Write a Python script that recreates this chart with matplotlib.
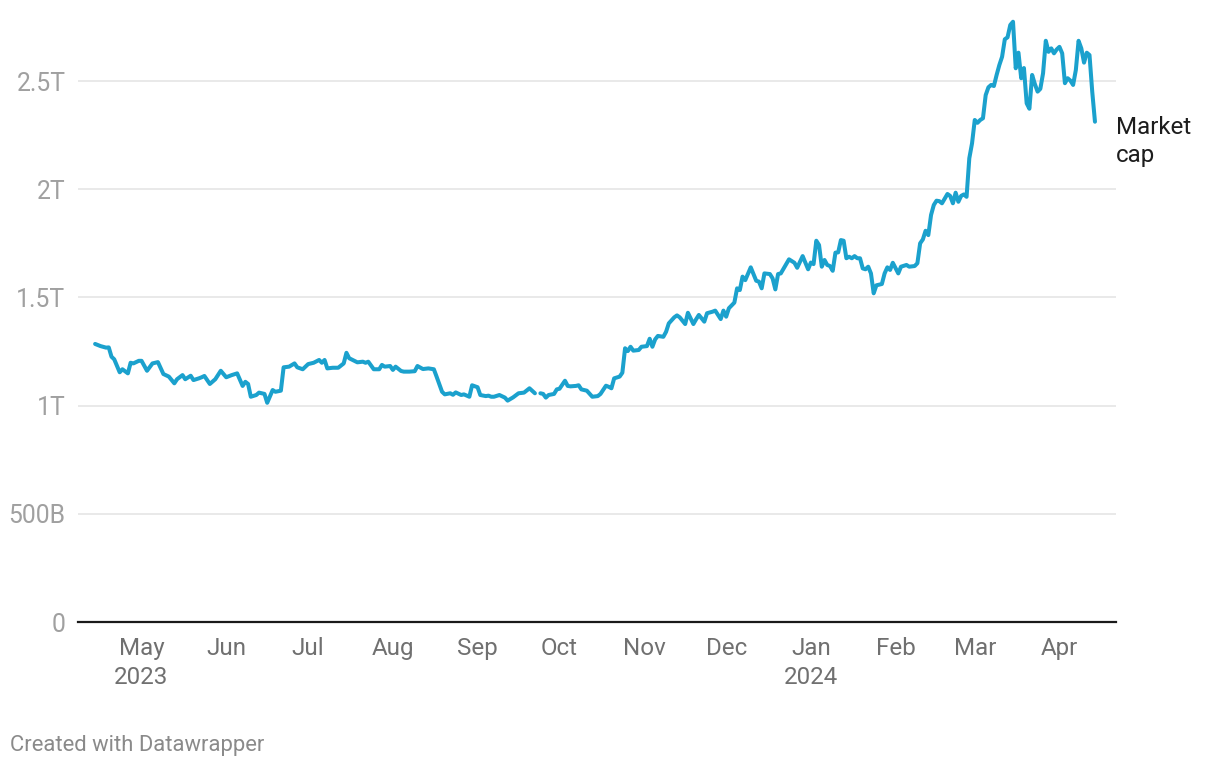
import numpy as np
import pandas as pd
import matplotlib
matplotlib.use("Agg")
import matplotlib.pyplot as plt

plt.rcParams['font.family'] = ['Roboto', 'DejaVu Sans']

# ---- data ----
start_date = "2023-04-14"
day_offsets = [
    0, 2, 4, 5, 6, 7, 9, 10, 12, 13, 14, 16, 17, 19, 21, 23, 25, 27, 29, 30,
    32, 33, 35, 36, 38, 39, 40, 42, 44, 46, 48, 50, 52, 54, 55, 56, 57, 59, 60, 62,
    63, 65, 66, 68, 69, 71, 73, 74, 76, 78, 80, 82, 83, 84, 85, 87, 89, 91, 92, 93,
    96, 98, 99, 100, 102, 104, 105, 106, 108, 109, 110, 112, 113, 115, 117, 118, 120, 122, 124, 125,
    127, 128, 130, 131, 132, 134, 135, 137, 138, 140, 141, 143, 144, 145, 146, 148, 150, 151, 153, 155,
    157, 159, 161, 162, 163, 164, 165, 166, 168, 169, 170, 172, 173, 174, 176, 177, 178, 180, 182, 184,
    185, 187, 188, 189, 190, 192, 193, 194, 195, 196, 197, 199, 200, 202, 203, 204, 205, 206, 208, 209,
    210, 212, 213, 214, 216, 217, 219, 220, 221, 223, 224, 226, 227, 229, 230, 231, 232, 234, 235, 236,
    237, 238, 240, 242, 243, 244, 245, 247, 248, 249, 250, 251, 253, 254, 256, 257, 259, 261, 262, 263,
    264, 265, 266, 267, 268, 269, 270, 271, 272, 273, 274, 275, 276, 277, 278, 279, 280, 281, 282, 283,
    284, 285, 286, 288, 289, 290, 291, 292, 294, 295, 297, 298, 300, 301, 302, 303, 304, 305, 306, 307,
    308, 309, 310, 312, 313, 314, 315, 316, 317, 318, 319, 320, 321, 322, 323, 324, 325, 326, 327, 328,
    329, 330, 331, 332, 333, 334, 335, 336, 337, 338, 339, 340, 341, 342, 343, 344, 345, 346, 347, 348,
    349, 350, 351, 352, 353, 354, 355, 356, 357, 358, 359, 360, 361, 362, 363, 364, 365, 366,
]
market_cap_t = [
    1.285, 1.275, 1.268, 1.269, 1.226, 1.214, 1.154, 1.168, 1.149, 1.198, 1.195, 1.207, 1.207, 1.161, 1.195, 1.201, 1.146, 1.134, 1.103, 1.122,
    1.141, 1.122, 1.138, 1.118, 1.126, 1.131, 1.137, 1.100, 1.122, 1.161, 1.131, 1.141, 1.149, 1.091, 1.110, 1.100, 1.041, 1.049, 1.060, 1.054,
    1.013, 1.072, 1.064, 1.069, 1.177, 1.180, 1.195, 1.177, 1.168, 1.192, 1.198, 1.211, 1.198, 1.211, 1.172, 1.175, 1.175, 1.195, 1.244, 1.219,
    1.200, 1.203, 1.198, 1.203, 1.168, 1.168, 1.188, 1.180, 1.183, 1.165, 1.180, 1.160, 1.157, 1.157, 1.159, 1.183, 1.169, 1.172, 1.168, 1.134,
    1.064, 1.052, 1.057, 1.050, 1.061, 1.049, 1.052, 1.041, 1.094, 1.085, 1.049, 1.044, 1.046, 1.041, 1.041, 1.049, 1.037, 1.023, 1.038, 1.057,
    1.060, 1.080, 1.057, np.nan, 1.057, 1.054, 1.037, 1.049, 1.054, 1.075, 1.078, 1.115, 1.091, 1.089, 1.091, 1.094, 1.075, 1.069, 1.041, 1.044,
    1.054, 1.092, 1.087, 1.080, 1.126, 1.134, 1.152, 1.265, 1.252, 1.272, 1.254, 1.257, 1.272, 1.275, 1.309, 1.272, 1.306, 1.322, 1.318, 1.341,
    1.380, 1.408, 1.417, 1.408, 1.377, 1.429, 1.377, 1.399, 1.419, 1.388, 1.427, 1.434, 1.439, 1.400, 1.439, 1.411, 1.450, 1.476, 1.542, 1.534,
    1.596, 1.580, 1.639, 1.577, 1.573, 1.542, 1.611, 1.608, 1.588, 1.537, 1.608, 1.611, 1.654, 1.676, 1.660, 1.637, 1.691, 1.630, 1.661, 1.654,
    1.762, 1.742, 1.642, 1.673, 1.650, 1.645, 1.623, 1.707, 1.708, 1.765, 1.762, 1.681, 1.688, 1.681, 1.691, 1.681, 1.681, 1.634, 1.630, 1.642,
    1.611, 1.519, 1.556, 1.562, 1.611, 1.639, 1.627, 1.660, 1.611, 1.642, 1.650, 1.642, 1.645, 1.658, 1.750, 1.768, 1.808, 1.788, 1.881, 1.927,
    1.947, 1.945, 1.935, 1.978, 1.969, 1.935, 1.984, 1.942, 1.969, 1.976, 1.965, 2.143, 2.212, 2.320, 2.307, 2.320, 2.328, 2.435, 2.471, 2.482,
    2.477, 2.528, 2.574, 2.612, 2.693, 2.702, 2.759, 2.774, 2.559, 2.631, 2.513, 2.560, 2.397, 2.372, 2.528, 2.486, 2.451, 2.464, 2.536, 2.686,
    2.635, 2.651, 2.628, 2.646, 2.658, 2.628, 2.490, 2.513, 2.502, 2.482, 2.551, 2.686, 2.651, 2.585, 2.631, 2.620, 2.451, 2.312,
]
y_ticks = [0, 0.5, 1.0, 1.5, 2.0, 2.5]
y_tick_labels = ["0", "500B", "1T", "1.5T", "2T", "2.5T"]
x_tick_dates = ["2023-05-01", "2023-06-01", "2023-07-01", "2023-08-01", "2023-09-01", "2023-10-01",
                "2023-11-01", "2023-12-01", "2024-01-01", "2024-02-01", "2024-03-01", "2024-04-01"]
x_tick_labels = ["May\n2023", "Jun", "Jul", "Aug", "Sep", "Oct",
                 "Nov", "Dec", "Jan\n2024", "Feb", "Mar", "Apr"]
series_label = "Market\ncap"

dates = pd.Timestamp(start_date) + pd.to_timedelta(day_offsets, unit="D")

# ---- figure ----
W, H = 1220, 768
fig = plt.figure(figsize=(W / 100, H / 100), dpi=100)
ax = fig.add_axes([78 / W, (H - 622) / H, 1038 / W, (622 - 5.3) / H])

line_color = "#1ba1cd"
ax.plot(dates, market_cap_t, color=line_color, lw=2.9, solid_capstyle="round",
        solid_joinstyle="round", zorder=3)

ax.set_ylim(0, 2.85)
x0 = pd.Timestamp(start_date) - pd.Timedelta(days=6.26)
x1 = pd.Timestamp(start_date) + pd.Timedelta(days=373.7)
ax.set_xlim(x0, x1)

ax.set_yticks(y_ticks)
ax.set_yticklabels(y_tick_labels)
ax.set_xticks(pd.to_datetime(x_tick_dates))
ax.set_xticklabels(x_tick_labels, linespacing=1.3)

ax.grid(axis="y", color="#e3e3e3", lw=1.1, zorder=0)
ax.grid(axis="x", visible=False)
for s in ["top", "right", "left"]:
    ax.spines[s].set_visible(False)
ax.spines["bottom"].set_color("#1a1a1a")
ax.spines["bottom"].set_linewidth(1.6)
ax.spines["bottom"].set_zorder(4)

ax.tick_params(axis="y", length=0, pad=9, labelsize=17.8, labelcolor="#a0a0a0")
ax.tick_params(axis="x", length=0, pad=11, labelsize=17.4, labelcolor="#707070")
for lbl in ax.get_xticklabels():
    lbl.set_verticalalignment("top")

# series label at end of line
ax.text(1116 / W, (H - 141.5) / H, series_label, transform=fig.transFigure,
        ha="left", va="center", fontsize=17.4, color="#1d1d1d", linespacing=1.3)

fig.text(10 / W, (H - 745) / H, "Created with Datawrapper", ha="left", va="center",
         fontsize=15.8, color="#8a8a8a")

fig.savefig("out.png", dpi=100, facecolor="white")
